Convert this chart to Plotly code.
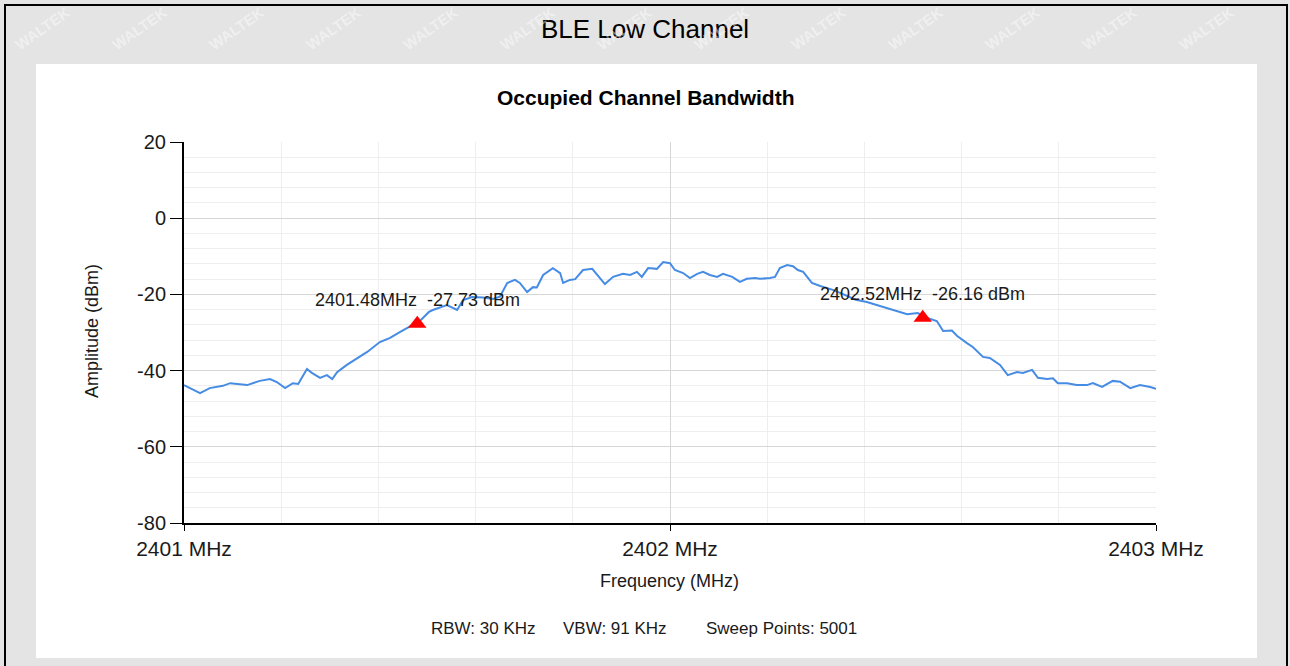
import plotly.graph_objects as go

# ---- data ----
freq_mhz = [
    2401.000, 2401.033, 2401.053, 2401.080, 2401.095, 2401.111, 2401.130, 2401.156,
    2401.177, 2401.191, 2401.208, 2401.224, 2401.235, 2401.253, 2401.263, 2401.280,
    2401.294, 2401.305, 2401.315, 2401.335, 2401.356, 2401.377, 2401.403, 2401.424,
    2401.444, 2401.465, 2401.486, 2401.504, 2401.512, 2401.541, 2401.562, 2401.574,
    2401.593, 2401.615, 2401.636, 2401.650, 2401.665, 2401.681, 2401.691, 2401.706,
    2401.718, 2401.726, 2401.739, 2401.759, 2401.774, 2401.780, 2401.794, 2401.805,
    2401.821, 2401.840, 2401.856, 2401.866, 2401.883, 2401.903, 2401.918, 2401.932,
    2401.942, 2401.955, 2401.973, 2401.986, 2402.000, 2402.010, 2402.027, 2402.041,
    2402.056, 2402.068, 2402.082, 2402.097, 2402.109, 2402.128, 2402.144, 2402.158,
    2402.175, 2402.185, 2402.206, 2402.216, 2402.226, 2402.241, 2402.253, 2402.263,
    2402.274, 2402.282, 2402.292, 2402.309, 2402.335, 2402.350, 2402.382, 2402.405,
    2402.420, 2402.447, 2402.465, 2402.488, 2402.510, 2402.529, 2402.549, 2402.562,
    2402.580, 2402.591, 2402.611, 2402.623, 2402.644, 2402.658, 2402.679, 2402.695,
    2402.714, 2402.726, 2402.745, 2402.757, 2402.776, 2402.788, 2402.798, 2402.817,
    2402.837, 2402.858, 2402.870, 2402.889, 2402.911, 2402.926, 2402.947, 2402.967,
    2402.988, 2403.000,
]
amplitude_dbm = [
    -43.8, -45.9, -44.6, -44.0, -43.3, -43.5, -43.8, -42.7,
    -42.2, -43.0, -44.6, -43.3, -43.5, -39.6, -40.6, -41.9,
    -41.2, -42.2, -40.4, -38.5, -36.7, -35.1, -32.5, -31.4,
    -29.9, -28.3, -26.9, -24.6, -24.1, -22.8, -24.1, -21.5,
    -20.7, -20.8, -21.2, -20.6, -17.0, -16.2, -17.0, -19.4,
    -18.1, -18.2, -14.9, -13.1, -14.4, -17.0, -16.2, -16.0,
    -13.6, -13.3, -15.7, -17.3, -15.4, -14.6, -14.9, -14.1,
    -15.4, -13.1, -13.3, -11.5, -11.8, -13.6, -14.4, -15.7,
    -14.6, -14.1, -14.9, -15.4, -14.6, -15.4, -16.7, -15.9,
    -15.7, -15.9, -15.7, -15.4, -13.1, -12.3, -12.6, -13.6,
    -14.1, -15.4, -17.0, -17.8, -18.8, -19.6, -21.4, -22.0,
    -22.6, -23.6, -24.4, -25.2, -24.9, -26.2, -27.0, -29.6,
    -29.5, -30.9, -32.8, -33.8, -36.4, -36.7, -38.5, -41.2,
    -40.4, -40.6, -39.8, -41.9, -42.2, -42.0, -43.3, -43.3,
    -43.8, -43.8, -43.3, -44.3, -42.7, -42.9, -44.6, -43.8,
    -44.3, -44.8,
]
marker_freq = [2401.48, 2402.52]
marker_amp = [-27.73, -26.16]
marker_text = ["2401.48MHz  -27.73 dBm", "2402.52MHz  -26.16 dBm"]
x_tickvals = [2401, 2402, 2403]
x_ticktext = ["2401 MHz", "2402 MHz", "2403 MHz"]
y_tickvals = [-80, -60, -40, -20, 0, 20]
y_ticktext = ["-80", "-60", "-40", "-20", "0", "20"]
footer_items = ["RBW: 30 KHz", "VBW: 91 KHz", "Sweep Points: 5001"]

FONT = "Arial, 'Liberation Sans', sans-serif"
TXT = "#1a1a1a"

W, H = 1290, 666
L, R, T, B = 184, 134, 142, 143
PW, PH = W - L - R, H - T - B


def px(x):
    return (x - L) / PW


def py(y):
    return (H - B - y) / PH


def paper_text(x, y, text, size, color=TXT, angle=0):
    return dict(x=px(x), y=py(y), xref="paper", yref="paper", text=text,
                showarrow=False, xanchor="center", yanchor="middle", textangle=angle,
                font=dict(family=FONT, size=size, color=color))


fig = go.Figure()
fig.add_trace(go.Scatter(
    x=freq_mhz, y=amplitude_dbm, mode="lines",
    line=dict(color="rgb(70,140,228)", width=2), hoverinfo="skip", showlegend=False,
))
fig.add_trace(go.Scatter(
    x=marker_freq, y=marker_amp, mode="markers",
    marker=dict(symbol="triangle-up", size=16, color="#ff0000", line=dict(width=0)),
    showlegend=False,
))

annotations = []
for f, a, t in zip(marker_freq, marker_amp, marker_text):
    annotations.append(dict(x=f, y=a, xref="x", yref="y", text=t, showarrow=False,
                            xanchor="center", yanchor="middle",
                            yshift=24, font=dict(family=FONT, size=18, color=TXT)))

annotations += [
    paper_text(645, 29, "BLE Low Channel", 26, "#000000"),
    paper_text(646, 97, "<b>Occupied Channel Bandwidth</b>", 21, "#000000"),
    paper_text(669, 581, "Frequency (MHz)", 18),
    paper_text(92, 331, "Amplitude (dBm)", 18, angle=-90),
]
for cx, t in zip([483, 615, 781], footer_items):
    annotations.append(paper_text(cx, 628, t, 17))

# faint watermark in the top grey strip
for i in range(13):
    annotations.append(paper_text(42 + 97 * i, 28, "<b>WALTEK</b>", 15,
                                  "rgba(255,255,255,0.45)", angle=-35))

shapes = [
    dict(type="rect", xref="paper", yref="paper", layer="below",
         x0=px(36), x1=px(1257), y0=py(658), y1=py(64),
         fillcolor="white", line=dict(width=0)),
    dict(type="rect", xref="paper", yref="paper", layer="above",
         x0=px(5), x1=px(1287), y0=py(690), y1=py(5),
         fillcolor="rgba(0,0,0,0)", line=dict(color="black", width=2)),
]

fig.update_layout(
    width=W, height=H,
    margin=dict(l=L, r=R, t=T, b=B, pad=0),
    paper_bgcolor="#e4e4e4", plot_bgcolor="white",
    showlegend=False,
    annotations=annotations, shapes=shapes,
    xaxis=dict(
        range=[2401, 2403], tickmode="array", tickvals=x_tickvals, ticktext=x_ticktext,
        showline=True, linecolor="black", linewidth=2, ticks="outside", ticklen=6,
        tickcolor="black", tickwidth=1, showgrid=True, gridcolor="#d6d6d6", gridwidth=1,
        zeroline=False, tickfont=dict(family=FONT, size=21, color=TXT),
        minor=dict(dtick=0.2, tick0=2401, showgrid=True, gridcolor="#eeeeee", ticks=""),
    ),
    yaxis=dict(
        range=[-80, 20], tickmode="array", tickvals=y_tickvals, ticktext=y_ticktext,
        showline=True, linecolor="black", linewidth=2, ticks="outside", ticklen=12,
        tickcolor="black", tickwidth=1, showgrid=True, gridcolor="#d6d6d6", gridwidth=1,
        zeroline=False, tickfont=dict(family=FONT, size=20, color=TXT),
        minor=dict(dtick=4, tick0=-80, showgrid=True, gridcolor="#eeeeee", ticks=""),
    ),
)

fig.write_html(
    "out.html",
    config={"displayModeBar": False},
    post_script="document.body.style.margin='0';document.body.style.overflow='hidden';",
)
